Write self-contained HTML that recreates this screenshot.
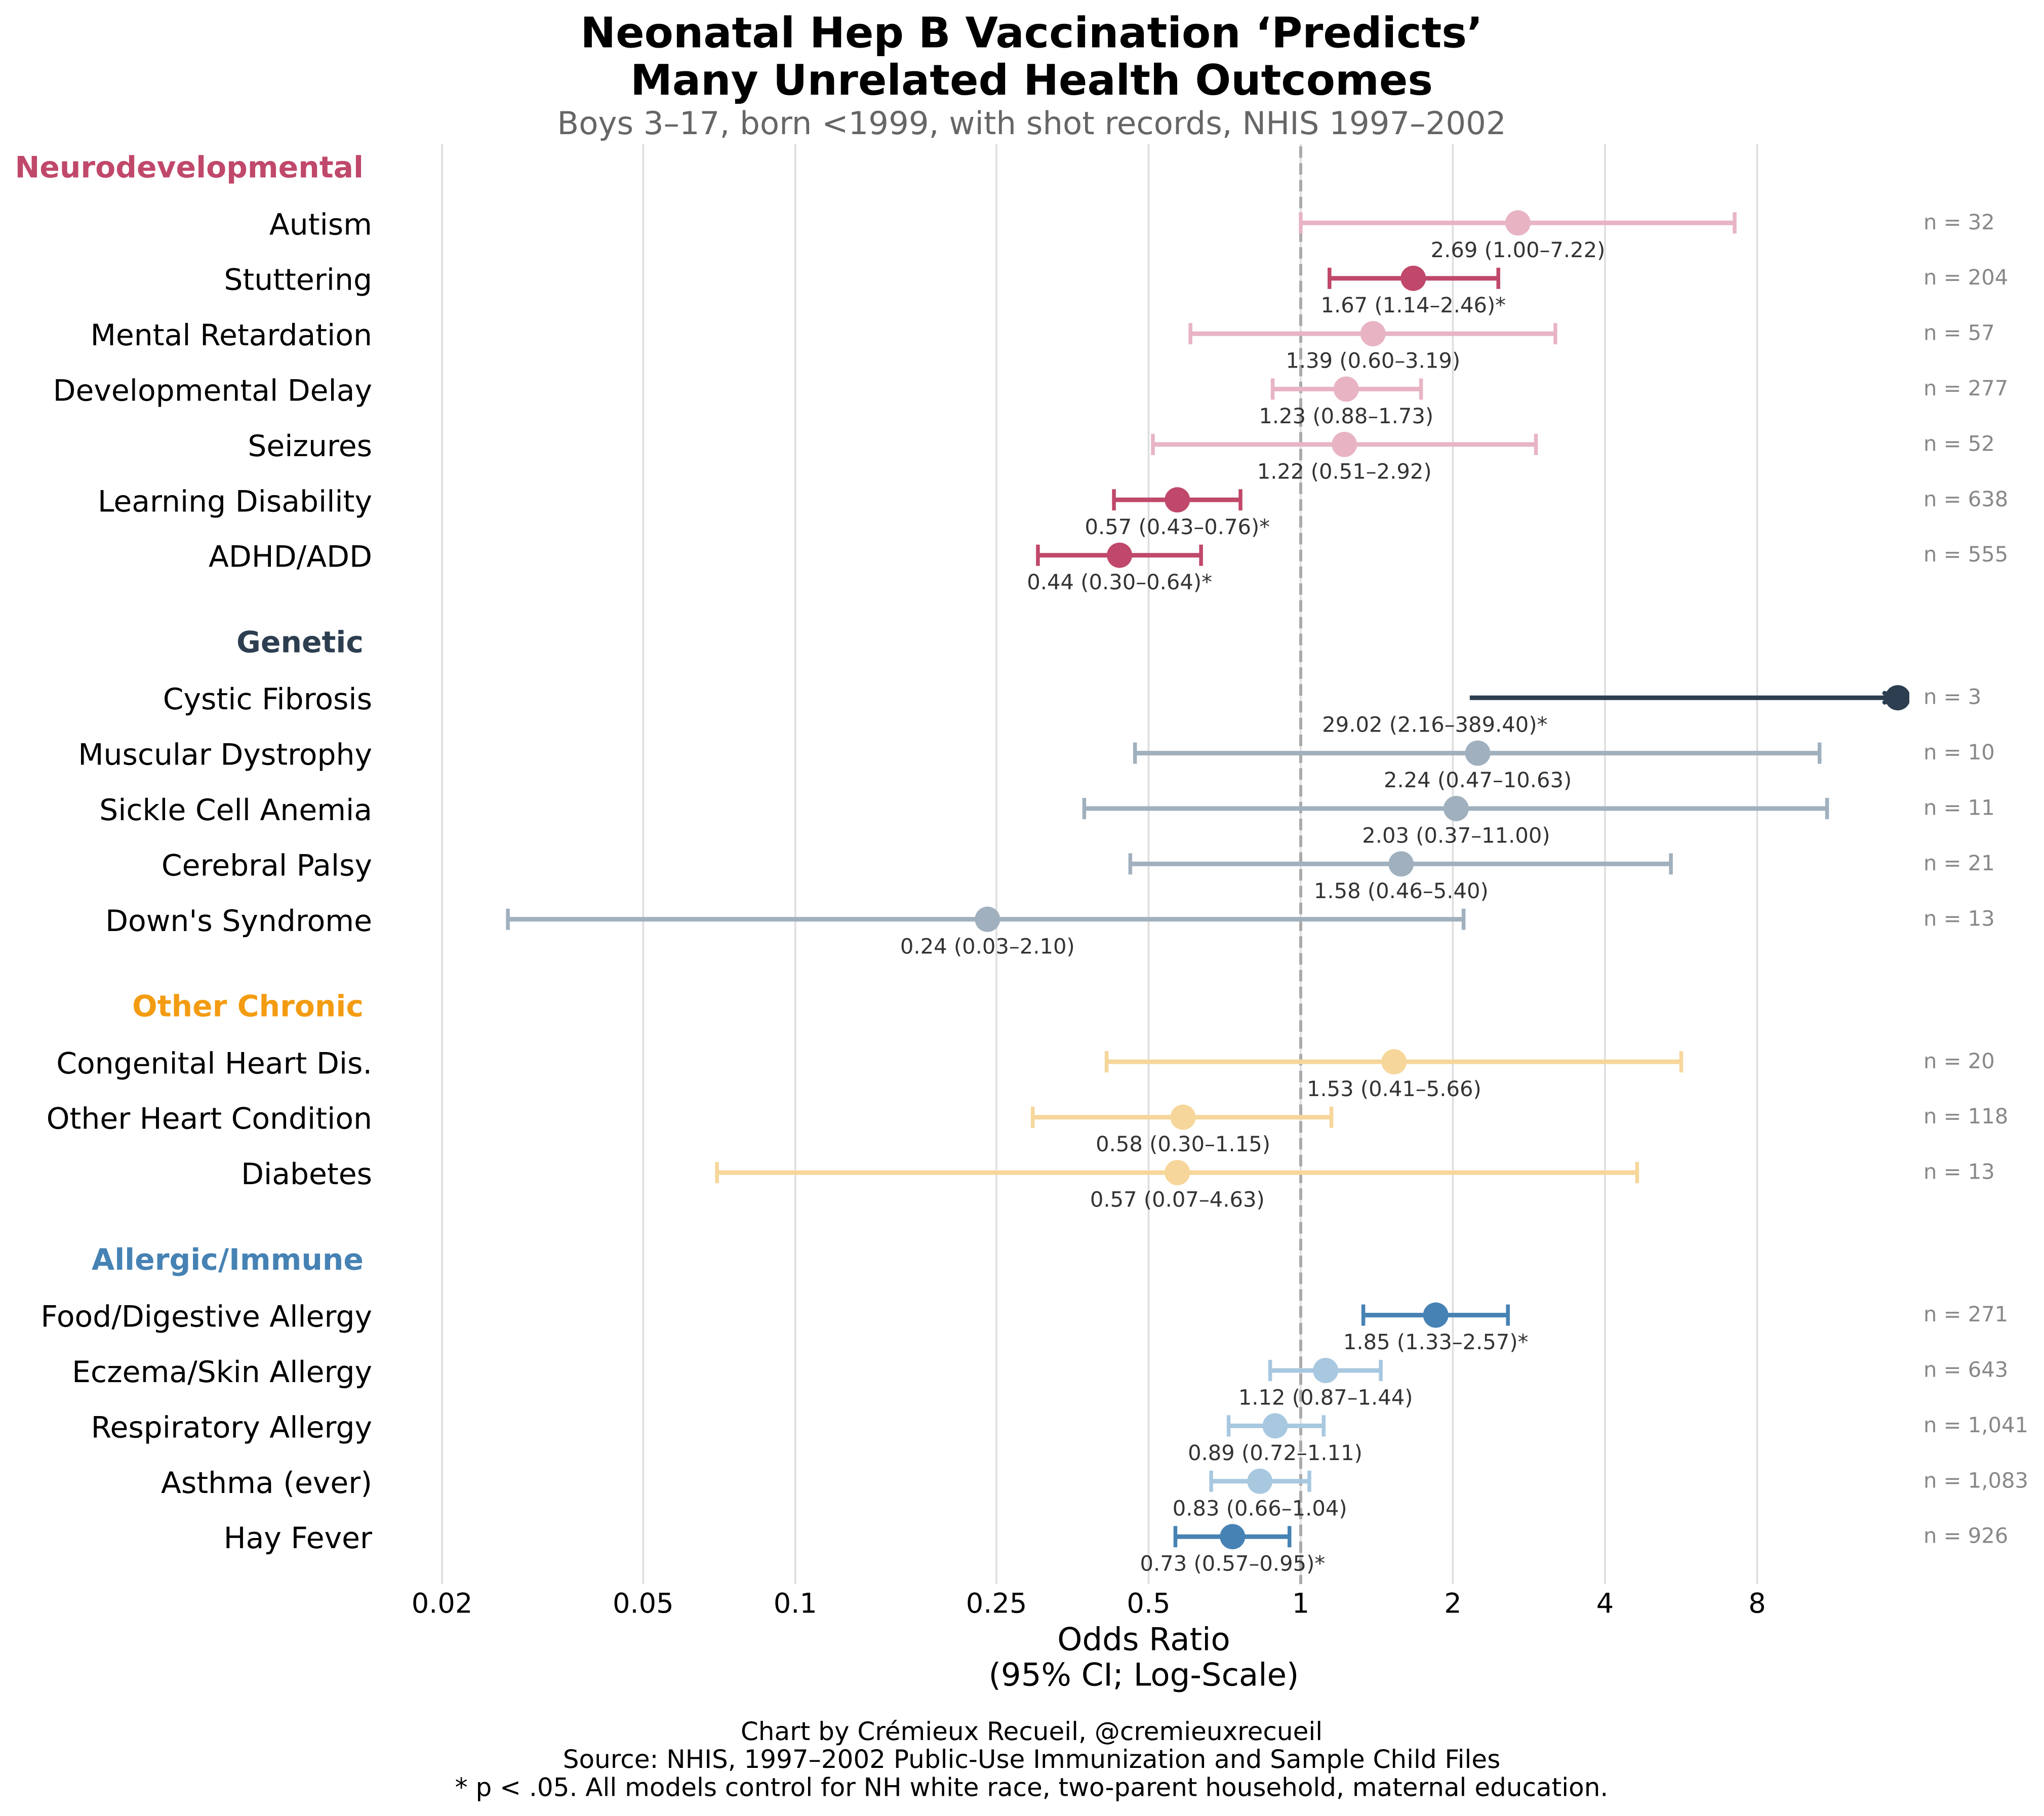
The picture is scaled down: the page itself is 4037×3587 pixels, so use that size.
<!DOCTYPE html>
<html lang="en">
<head>
<meta charset="utf-8">
<title>Neonatal Hep B Vaccination Predicts Many Unrelated Health Outcomes</title>
<style>
html,body{margin:0;padding:0;background:#fff;}
svg{display:block;}
text{font-family:"DejaVu Sans","Liberation Sans",sans-serif;text-rendering:geometricPrecision;}
</style>
</head>
<body>
<svg id="chart" xmlns="http://www.w3.org/2000/svg" width="4037" height="3587" viewBox="0 0 4037 3587">
  <defs><clipPath id="plot-clip"><rect x="747" y="284" width="3024" height="2845"></rect></clipPath></defs>
  <rect x="0" y="0" width="4037" height="3587" fill="#ffffff"></rect>
  <text x="2037.5" y="93.4" font-size="83.33" font-weight="700" text-anchor="middle" fill="#000">Neonatal Hep B Vaccination ‘Predicts’</text>
  <text x="2037.5" y="187" font-size="83.33" font-weight="700" text-anchor="middle" fill="#000">Many Unrelated Health Outcomes</text>
  <text x="2037.5" y="265" font-size="62.5" text-anchor="middle" fill="#666666">Boys 3–17, born &lt;1999, with shot records, NHIS 1997–2002</text>
  <g id="grid"></g>
  <line id="refline" y1="284" y2="3129" stroke="#aaaaaa" stroke-width="6" stroke-dasharray="22.7 10.5" stroke-dashoffset="-5"></line>
  <g id="marks" clip-path="url(#plot-clip)"></g>
  <g id="labels"></g>
  <text x="2259" y="3259.3" font-size="62.5" text-anchor="middle" fill="#000">Odds Ratio</text>
  <text x="2259" y="3329.5" font-size="62.5" text-anchor="middle" fill="#000">(95% CI; Log-Scale)</text>
  <text x="2037.5" y="3436.8" font-size="50" text-anchor="middle" fill="#000">Chart by Crémieux Recueil, @cremieuxrecueil</text>
  <text x="2037.5" y="3491.8" font-size="50" text-anchor="middle" fill="#000">Source: NHIS, 1997–2002 Public-Use Immunization and Sample Child Files</text>
  <text x="2037.5" y="3547.5" font-size="50" text-anchor="middle" fill="#000">* p &lt; .05. All models control for NH white race, two-parent household, maternal education.</text>
</svg>
<script>
const groupNames = ["Neurodevelopmental", "Genetic", "Other Chronic", "Allergic/Immune"];
const groupSizes = [7, 5, 3, 5];
const groupColors = ["#c0486a", "#2c3e50", "#f39c12", "#4682b4"];
const groupLightColors = ["#e8b4c4", "#a0b0be", "#f6d69a", "#a8c8e0"];

const categories = [
  "Autism", "Stuttering", "Mental Retardation", "Developmental Delay", "Seizures", "Learning Disability", "ADHD/ADD",
  "Cystic Fibrosis", "Muscular Dystrophy", "Sickle Cell Anemia", "Cerebral Palsy", "Down's Syndrome",
  "Congenital Heart Dis.", "Other Heart Condition", "Diabetes",
  "Food/Digestive Allergy", "Eczema/Skin Allergy", "Respiratory Allergy", "Asthma (ever)", "Hay Fever"
];
const oddsRatios = [2.69, 1.67, 1.39, 1.23, 1.22, 0.57, 0.438, 29.02, 2.24, 2.03, 1.58, 0.24, 1.53, 0.585, 0.57, 1.85, 1.12, 0.89, 0.83, 0.733];
const ciLow = [1.00, 1.14, 0.605, 0.88, 0.51, 0.427, 0.302, 2.16, 0.47, 0.373, 0.46, 0.027, 0.413, 0.295, 0.07, 1.33, 0.87, 0.72, 0.665, 0.565];
const ciHigh = [7.22, 2.46, 3.19, 1.73, 2.92, 0.76, 0.635, 389.40, 10.63, 11.00, 5.40, 2.10, 5.66, 1.15, 4.63, 2.57, 1.44, 1.11, 1.04, 0.95];
const significant = [false, true, false, false, false, true, true, true, false, false, false, false, false, false, false, true, false, false, false, true];
const valueLabels = [
  "2.69 (1.00–7.22)", "1.67 (1.14–2.46)*", "1.39 (0.60–3.19)", "1.23 (0.88–1.73)", "1.22 (0.51–2.92)", "0.57 (0.43–0.76)*", "0.44 (0.30–0.64)*",
  "29.02 (2.16–389.40)*", "2.24 (0.47–10.63)", "2.03 (0.37–11.00)", "1.58 (0.46–5.40)", "0.24 (0.03–2.10)",
  "1.53 (0.41–5.66)", "0.58 (0.30–1.15)", "0.57 (0.07–4.63)",
  "1.85 (1.33–2.57)*", "1.12 (0.87–1.44)", "0.89 (0.72–1.11)", "0.83 (0.66–1.04)", "0.73 (0.57–0.95)*"
];
const sampleSizes = ["32", "204", "57", "277", "52", "638", "555", "3", "10", "11", "21", "13", "20", "118", "13", "271", "643", "1,041", "1,083", "926"];
const xTicks = [0.02, 0.05, 0.1, 0.25, 0.5, 1, 2, 4, 8];
const xTickLabels = ["0.02", "0.05", "0.1", "0.25", "0.5", "1", "2", "4", "8"];
const clipOR = 15.18;
const clippedLabelOR = 1.842;

const NS = "http://www.w3.org/2000/svg";
const ROW_STEP = 109.4;
const GROUP_GAP = 281.5;
const FIRST_ROW = 440.3;

function xScale(v) { return 2569 + 300.5 * Math.log2(v); }
function yScale(i) {
  let g = 0, acc = 0;
  while (i >= acc + groupSizes[g]) { acc += groupSizes[g]; g++; }
  let y = FIRST_ROW;
  for (let k = 0; k < g; k++) y += (groupSizes[k] - 1) * ROW_STEP + GROUP_GAP;
  return y + (i - acc) * ROW_STEP;
}
function groupOf(i) {
  let g = 0, acc = 0;
  while (i >= acc + groupSizes[g]) { acc += groupSizes[g]; g++; }
  return g;
}
function make(tag, parent) {
  const el = document.createElementNS(NS, tag);
  parent.appendChild(el);
  return el;
}
function setAll(el, props) {
  for (const k in props) el.setAttribute(k, props[k]);
}

const gridLayer = document.getElementById("grid");
const markLayer = document.getElementById("marks");
const labelLayer = document.getElementById("labels");
document.getElementById("refline").setAttribute("x1", xScale(1));
document.getElementById("refline").setAttribute("x2", xScale(1));

xTicks.forEach(function (t, i) {
  const line = make("line", gridLayer);
  
  
  setAll(line, { x1: xScale(t), x2: xScale(t), y1: 284, y2: 3129, stroke: "#dddddd", "stroke-width": 3.5 });
  const tick = make("text", labelLayer);
  
  
  setAll(tick, { x: xScale(t), y: 3185.3, "font-size": 54.17, "text-anchor": "middle", fill: "#000" });
  tick.textContent = xTickLabels[i];
});

let headerIndex = 0;
groupNames.forEach(function (name, g) {
  const head = make("text", labelLayer);
  
  
  setAll(head, { x: 718, y: yScale(headerIndex) - 89.7, "font-size": 58.33, "font-weight": 700, "text-anchor": "end", fill: groupColors[g] });
  head.textContent = name;
  headerIndex += groupSizes[g];
});

categories.forEach(function (name, i) {
  const g = groupOf(i);
  const y = yScale(i);
  const color = significant[i] ? groupColors[g] : groupLightColors[g];
  const clipped = ciHigh[i] > clipOR;
  const x0 = xScale(ciLow[i]);
  const x1 = xScale(Math.min(ciHigh[i], clipOR));
  const xp = xScale(Math.min(oddsRatios[i], clipOR));

  const ci = make("line", markLayer);
  
  
  setAll(ci, { x1: x0, x2: x1, y1: y, y2: y, stroke: color, "stroke-width": 9 });

  if (clipped) {
    const arrow = make("polyline", markLayer);
    
    
    setAll(arrow, { points: (x1 - 26) + "," + (y - 9) + " " + x1 + "," + y + " " + (x1 - 26) + "," + (y + 9), fill: "none", stroke: color, "stroke-width": 9, "stroke-linecap": "round", "stroke-linejoin": "round" });
  } else {
    const capLow = make("line", markLayer);
    
    
    setAll(capLow, { x1: x0, x2: x0, y1: y - 21, y2: y + 21, stroke: color, "stroke-width": 7.5 });
    const capHigh = make("line", markLayer);
    
    
    setAll(capHigh, { x1: x1, x2: x1, y1: y - 21, y2: y + 21, stroke: color, "stroke-width": 7.5 });
  }

  const dot = make("circle", markLayer);
  
  
  setAll(dot, { cx: xp, cy: y, r: 25, fill: color });

  const rowLabel = make("text", labelLayer);
  
  
  setAll(rowLabel, { x: 735, y: y + 23, "font-size": 58.33, "text-anchor": "end", fill: "#000" });
  rowLabel.textContent = name;

  const value = make("text", labelLayer);
  
  
  setAll(value, { x: clipped ? xScale(clippedLabelOR) : xScale(oddsRatios[i]), y: y + 67.5, "font-size": 41.67, "text-anchor": "middle", fill: "#333333" });
  value.textContent = valueLabels[i];

  const count = make("text", labelLayer);
  
  
  setAll(count, { x: 3799, y: y + 12.5, "font-size": 41.67, fill: "#888888" });
  count.textContent = "n = " + sampleSizes[i];
});
</script>
</body>
</html>
